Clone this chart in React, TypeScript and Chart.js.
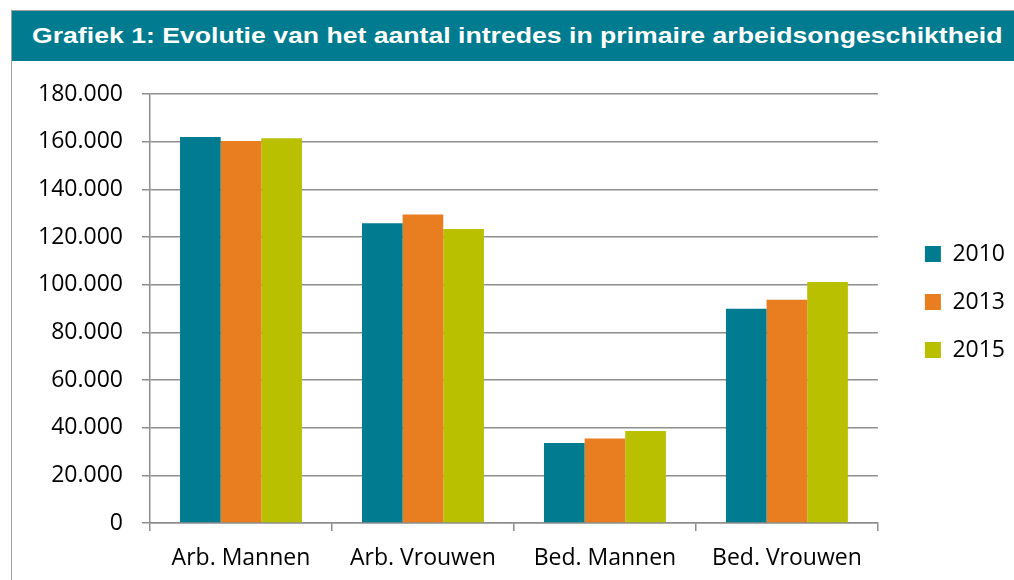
import React, { useEffect, useRef } from "react";
import { Chart, registerables } from "chart.js";

Chart.register(...registerables);

const titleText = "Grafiek 1: Evolutie van het aantal intredes in primaire arbeidsongeschiktheid";
const categories = ["Arb. Mannen", "Arb. Vrouwen", "Bed. Mannen", "Bed. Vrouwen"];
const seriesLabels = ["2010", "2013", "2015"];
const values2010 = [162000, 125800, 33600, 89900];
const values2013 = [160300, 129400, 35500, 93700];
const values2015 = [161400, 123400, 38600, 101100];
const seriesColors = ["#007b8f", "#e87e20", "#b8c000"];
const yMin = 0;
const yMax = 180000;
const yStep = 20000;

const gridColor = "#8e8e8e";
const tickFont = { family: "'Open Sans', sans-serif", size: 23 };

const formatThousands = (v: number) =>
  String(Math.round(v)).replace(/\B(?=(\d{3})+(?!\d))/g, ".");

const legendShift = {
  id: "legendShift",
  afterLayout(chart: any) {
    const lg = chart.legend;
    if (!lg) return;
    lg.left += 22;
    lg.right += 22;
    lg.top -= 35;
    lg.bottom -= 35;
  },
};

export default function App() {
  const canvasRef = useRef<HTMLCanvasElement | null>(null);

  useEffect(() => {
    const canvas = canvasRef.current;
    if (!canvas) return;
    const chart = new Chart(canvas, {
      type: "bar",
      data: {
        labels: categories,
        datasets: [
          { label: seriesLabels[0], data: values2010, backgroundColor: seriesColors[0] },
          { label: seriesLabels[1], data: values2013, backgroundColor: seriesColors[1] },
          { label: seriesLabels[2], data: values2015, backgroundColor: seriesColors[2] },
        ],
      },
      options: {
        responsive: false,
        animation: false,
        events: [],
        datasets: {
          bar: { categoryPercentage: 0.67, barPercentage: 1.0 },
        },
        layout: { padding: { top: 33, right: 21, bottom: 0, left: 0 } },
        plugins: {
          title: { display: false },
          tooltip: { enabled: false },
          legend: {
            display: true,
            position: "right",
            labels: {
              boxWidth: 16,
              boxHeight: 16,
              padding: 25,
              color: "#000",
              font: tickFont,
            },
          },
        },
        scales: {
          x: {
            offset: true,
            grid: {
              display: true,
              offset: true,
              drawOnChartArea: false,
              drawTicks: true,
              tickLength: 8,
              color: gridColor,
              lineWidth: 1.5,
            },
            border: { display: true, color: gridColor, width: 1.5 },
            ticks: { color: "#000", font: tickFont, padding: 14, maxRotation: 0 },
            afterFit: (s: any) => {
              s.height = 57;
            },
          },
          y: {
            min: yMin,
            max: yMax,
            grid: {
              color: gridColor,
              lineWidth: 1.5,
              tickLength: 8,
            },
            border: { display: true, color: gridColor, width: 1.5 },
            ticks: {
              stepSize: yStep,
              color: "#000",
              font: tickFont,
              padding: 19,
              callback: (v: any) => formatThousands(Number(v)),
            },
            afterFit: (s: any) => {
              s.width = 138;
            },
          },
        },
      },
      plugins: [legendShift],
    });
    return () => chart.destroy();
  }, []);

  return (
    <div
      style={{
        position: "absolute",
        left: 11,
        top: 10,
        width: 1003,
        height: 570,
        borderLeft: "1px solid #a0a0a0",
        borderTop: "1px solid #a0a0a0",
        background: "#fff",
        overflow: "hidden",
      }}
    >
      <div
        style={{
          height: 50,
          background: "#007b8f",
          color: "#fff",
          fontFamily: "'Liberation Sans', Arial, sans-serif",
          fontWeight: "bold",
          fontSize: 22,
          lineHeight: "50px",
          paddingLeft: 20,
          whiteSpace: "nowrap",
        }}
      >
        <span
          style={{
            display: "inline-block",
            transform: "scaleX(1.21)",
            transformOrigin: "left center",
          }}
        >
          {titleText}
        </span>
      </div>
      <canvas
        ref={canvasRef}
        width={1002}
        height={519}
        style={{ display: "block", width: 1002, height: 519 }}
      />
    </div>
  );
}
